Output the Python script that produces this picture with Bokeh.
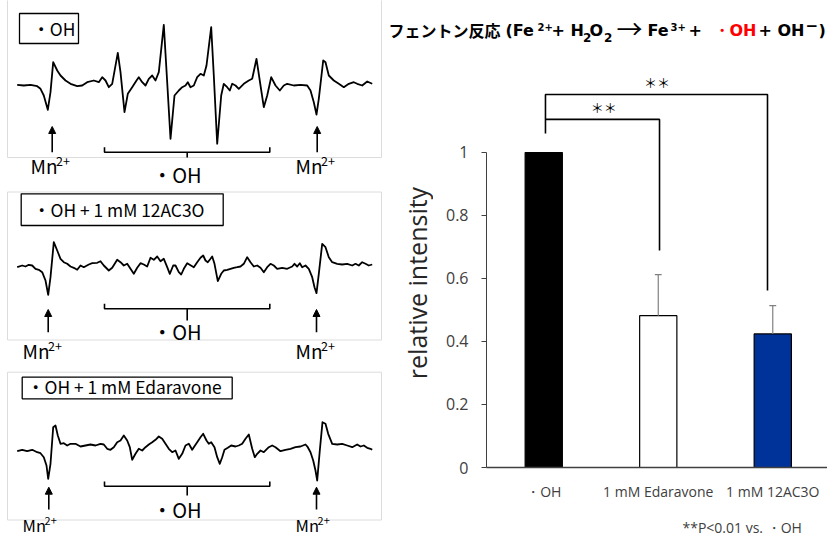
import math
from bokeh.plotting import figure
from bokeh.layouts import row, column
from bokeh.models import Range1d, FixedTicker, Arrow, NormalHead
from bokeh.core.properties import value
from bokeh.embed import file_html
from bokeh.resources import INLINE

# ---------------- data ----------------
categories = ["・OH", "1 mM Edaravone", "1 mM 12AC3O"]
intensity = [1.0, 0.482, 0.424]
sd = [0.0, 0.13, 0.09]
bar_colors = ["#000000", "#ffffff", "#003399"]
y_ticks = [0, 0.2, 0.4, 0.6, 0.8, 1]
y_tick_labels = ["0", "0.2", "0.4", "0.6", "0.8", "1"]
y_label = "relative intensity"
sig_text = "＊＊"
footnote = "**P<0.01 vs. ・OH"

# ESR spectra (field position, signal amplitude a.u.)
field_oh = [16.7, 23.3, 30, 36.7, 40, 43.3, 47.3, 50, 52.7, 56.7,
            60, 65, 70, 76.7, 81.7, 86.7, 93.3, 98.3, 101.7, 105,
            108.3, 111.7, 117.3, 120, 124, 127.3, 131.7, 136, 138.3, 141.7,
            145, 148.3, 151.7, 155, 158.3, 163.3, 166.7, 170, 174, 178.3,
            181.7, 185, 187.3,
            190, 193.3, 196.7, 200, 203.3, 206, 210.7, 213.3, 216.7, 220.7,
            223.3, 226.7, 229.3, 231.7, 235, 238.3, 243.3, 248.3, 251.7, 256,
            260, 263.3, 266.7, 270.7, 275, 279.3, 283.3, 286.7, 293.3, 300,
            306.7, 310, 313.3, 316, 318.3, 322.7, 325, 328.3, 333.3, 338.3,
            343.3, 348.3, 353.3, 356.7, 361.7, 366.7, 371.7]
signal_oh = [-0.3, -1, -0.3, -1.7, -4.3, -11, -25.3, -7.7, 22.3, 14,
             9, 4, 0.7, -1.7, -1, 2.3, 4, 2.3, 7.3, 4,
             -2.7, 0.7, 31.7, 12.3, -27.7, -9.3, -2.7, 4, 7.3, 2.3,
             -1, 5.7, 9, 4, 12.3, 59.7, 2.3, -54.3, -11, -6,
             -2.7, -1, 2.3,
             -2.7, -1, 7.3, 10.7, 9, 19, 57.3, 9, -59.3, -11,
             0.7, -2.7, -6, 0.7, -1, -4.3, 0.7, 4, 5.7, 25.7,
             -1, -22.7, -11, 7.3, -1, -6, -1, 0.7, -1, -0.3,
             -1, -6, -17.7, -30, -14.3, 24, 22.3, 9, 4, 0.7,
             -2.7, 0.7, 2.3, 0.7, -1, 3, 0.7]

field_12ac3o = [16.7, 21.7, 25, 28.3, 31.7, 35, 38.3, 41.7, 45, 47.7,
                50, 53.3, 56.7, 60, 63.3, 66.7, 70, 73.3, 76.7, 80,
                83.3, 88.3, 91.7, 96.7, 100, 103.3, 108.3, 111.7, 116.7, 120,
                123.3, 126.7, 130, 133.3, 136.7, 140, 143.3, 146.7, 150, 153.3,
                156.7, 160, 163.3, 166.7, 169.3, 172.7, 175, 178.3, 180.7, 183.3,
                186.7,
                193.3, 196.7, 200, 202.7, 205, 207.3, 210, 211.7, 214, 217.3,
                220.7, 223.3, 226.7, 230, 233.3, 236.7, 240, 243.3, 246.7, 250,
                253.3, 256.7, 260, 263.3, 266.7, 270, 273.3, 276.7, 281.7, 286.7,
                291.7, 294, 296.7, 299.3, 301.7, 305, 308.3, 311.7, 314, 316,
                318.3, 321.7, 325, 328.3, 331.7, 336.7, 341.7, 346.7, 351.7, 355,
                358.3, 361.7, 365, 368.3, 371.7]
signal_12ac3o = [-1.7, 0, -1, 0.7, 0, -3.3, -4.3, -6.7, -15, -29.3,
                 -11.7, 23.3, 15, 6.7, 3.3, 1.7, -1, -2.3, -4.3, 0,
                 -1.7, 1, 2.3, 2.7, 4.3, 0, -5, -2.3, 5.7, 3.3,
                 0, 1.7, -3.3, -8.3, -2.3, 2.3, 1, -1, 7.7, 5.7,
                 9, 4.3, 6.7, -1.7, -8.3, 0, 0, -6.7, -9, -3.3,
                 2.3,
                 -1.7, 3.3, 7.7, 10, 5, 3.3, 6.7, 9, 1.7, -15.7,
                 -8.3, -5, -4.3, -3.3, -2.3, -1.7, -1, 1.7, 8.3, 3.3,
                 -1, 0, -2.3, -6.7, -1.7, 1.7, 0, -3.3, -2.3, -3.3,
                 -1, 1.7, -1, 2.3, -1.7, 0, -3.3, -11.7, -21.7, -27.7,
                 -8.3, 21.7, 18.3, 8.3, 3.3, 1.7, 1, 1.7, 0, 1.7,
                 0, 3.3, 1.7, 0, 1]

field_edaravone = [16.7, 21.7, 26.7, 31.7, 36.7, 40, 43.3, 46, 47.7, 50,
                   52.7, 55, 57.3, 60, 63.3, 66.7, 70, 75, 80, 85,
                   90, 95, 100, 103.3, 106.7, 110, 113.3, 116.7, 120, 123.3,
                   126.7, 129.3, 131.7, 135, 138.3, 141.7, 145, 148.3, 151.7, 155,
                   158.3, 161.7, 165, 168.3, 171.7, 175, 178.3, 181.7, 185, 188.3,
                   191.7,
                   193.3, 196.7, 200, 202.7, 206, 208.3, 210.7, 214, 216.7, 219.3,
                   221.7, 224, 227.3, 230.7, 235, 238.3, 241.7, 245, 248.3, 251.7,
                   254.3, 256.7, 260, 263.3, 268.3, 271.7, 275, 280, 285, 290,
                   295, 300, 305, 307.3, 310, 312.7, 315, 316.7, 319.3, 322,
                   325, 327.7, 331.7, 336.7, 341.7, 346.7, 351.7, 356.7, 360, 363.3,
                   366.7, 370, 371.7]
signal_edaravone = [-4.7, -3.3, -4.7, -3.3, -5.7, -6.7, -10.7, -19, -32.3, -17.3,
                    19.3, 21, 11, 2.7, 3.3, 1, 2.7, 2.7, 0, 1,
                    2, 1, 2.7, 2, -2.3, -3.3, -0.7, 4.3, 6, 11,
                    6, -0.7, -13.3, -7.3, -2.3, -4, -0.7, 2, 4.3, 6.7,
                    10, 7.7, 2.7, -2.3, -5.7, -4, -12.3, -7.3, 1, 2.7,
                    -3.3,
                    -0.7, 4.3, 9.3, 12.7, 6, 2.7, 4.3, -0.7, -10.7, -17.3,
                    -10.7, -3.3, -1.3, 1, 0, 1, 2.7, 7.7, 12, -2.3,
                    -10.7, -7.3, -4, -5.7, -0.7, 1, -0.7, -4.7, -3.3, -2.3,
                    -0.7, 0, 2, -0.7, -5.7, -14, -24, -34, -4, 24.3,
                    22.7, 12.7, 2.7, 2, 2.7, 1, -0.7, 2, 0, 1,
                    -1.3, -2.3, -3.3]

panel_labels = ["・OH", "・OH + 1 mM 12AC3O", "・OH + 1 mM Edaravone"]
peak_label = "・OH"
mn_text = "Mn"
mn_sup = "2+"

CJK = "Noto Sans CJK JP"
SANS = "Open Sans"
DJB = "DejaVu Sans"


def base(y, size):
    # text baseline correction (alphabetic text drawn ~0.45em low)
    return y - 0.45 * size


def blank(fig):
    fig.grid.visible = False
    return fig


# ---------------- left: ESR spectra ----------------
left = blank(figure(width=383, height=537, x_range=Range1d(0, 383), y_range=Range1d(537, 0),
                    x_axis_type=None, y_axis_type=None, output_backend="svg",
                    toolbar_location=None, min_border=0, outline_line_color=None,
                    frame_align=False))

panels = [
    dict(field=field_oh, signal=signal_oh, base=84, frame=(7, 381, -5, 157),
         box=(19, 78, 13, 43), lab_x=31.9, lab_base=35.5,
         arr=(151.7, 126), arr_x=(51.7, 316.7),
         br_y=151.7, br_up=5, br_c=157, oh_base=183, mn_base=174, mn_size=19, mn_x=(30, 295)),
    dict(field=field_12ac3o, signal=signal_12ac3o, base=265, frame=(7, 381, 191.5, 339.5),
         box=(20.7, 222.7, 193.3, 225), lab_x=32.6, lab_base=216.5,
         arr=(331.7, 309), arr_x=(47.7, 316),
         br_y=308.3, br_up=5, br_c=320, oh_base=340, mn_base=358.3, mn_size=19, mn_x=(22, 295)),
    dict(field=field_edaravone, signal=signal_edaravone, base=446, frame=(7, 381, 371.7, 519.5),
         box=(21.7, 231.7, 376.7, 398.3), lab_x=26.6, lab_base=394,
         arr=(509, 486.7), arr_x=(48.3, 316),
         br_y=485.7, br_up=4.7, br_c=495, oh_base=518, mn_base=532, mn_size=16.5, mn_x=(22, 295)),
]

for i, pn in enumerate(panels):
    l, r, t, b = pn["frame"]
    left.quad(left=[l], right=[r], top=[t], bottom=[b], fill_color=None,
              line_color="#dcdcdc", line_width=1)
    ys = [pn["base"] - s for s in pn["signal"]]
    left.line(pn["field"], ys, line_color="black", line_width=1.8, line_join="round")
    bl, br, bt, bb = pn["box"]
    left.quad(left=[bl], right=[br], top=[bt], bottom=[bb], fill_color="white",
              line_color="black", line_width=1.3)
    left.text(x=[pn["lab_x"]], y=[base(pn["lab_base"], 17.4)], text=[panel_labels[i]],
              text_font=value(CJK), text_font_size="17.4px", text_baseline="alphabetic",
              text_align="left", text_color="black")
    y0, y1 = pn["arr"]
    for ax in pn["arr_x"]:
        left.add_layout(Arrow(x_start=ax, y_start=y0, x_end=ax, y_end=y1, line_width=1.6,
                              line_color="black",
                              end=NormalHead(size=7, fill_color="black", line_color="black")))
    by = pn["br_y"]
    left.line([104, 104, 269.3, 269.3], [by - pn["br_up"], by, by, by - pn["br_up"]],
              line_color="black", line_width=1.6)
    left.line([186.7, 186.7], [by, pn["br_c"]], line_color="black", line_width=1.6)
    left.text(x=[151.7], y=[base(pn["oh_base"], 20)], text=[peak_label], text_font=value(CJK),
              text_font_size="20px", text_baseline="alphabetic", text_align="left",
              text_color="black")
    ms = pn["mn_size"]
    for mx in pn["mn_x"]:
        left.text(x=[mx], y=[base(pn["mn_base"], ms)], text=[mn_text], text_font=value(CJK),
                  text_font_size=f"{ms}px", text_baseline="alphabetic", text_align="left",
                  text_color="black")
        left.text(x=[mx + 1.34 * ms], y=[base(pn["mn_base"] - 0.4 * ms, 0.66 * ms)], text=[mn_sup],
                  text_font=value(CJK), text_font_size=f"{0.66 * ms:.1f}px",
                  text_baseline="alphabetic", text_align="left", text_color="black")

# ---------------- title ----------------
tfig = blank(figure(width=444, height=58, x_range=Range1d(383, 827), y_range=Range1d(58, 0),
                    x_axis_type=None, y_axis_type=None, output_backend="svg",
                    toolbar_location=None, min_border=0, outline_line_color=None,
                    frame_align=False))

title_pieces = [
    # text, x, baseline, size, font, color
    ("フェントン反応", 388, 36.7, 16, CJK, "black"),
    ("(Fe", 505, 36.7, 16, DJB, "black"),
    ("2+", 537, 31, 10, DJB, "black"),
    ("+ H", 551, 36.7, 16, DJB, "black"),
    ("2", 582.5, 42.5, 12, DJB, "black"),
    ("O", 589, 36.7, 16, DJB, "black"),
    ("2", 603.5, 42.5, 12, DJB, "black"),
    ("Fe", 647, 36.7, 16, DJB, "black"),
    ("3+", 670, 31, 10, DJB, "black"),
    ("+", 688, 36.7, 16, DJB, "black"),
    ("・OH", 713, 36.7, 16, DJB, "#ff0000"),
    ("+ OH", 758, 36.7, 16, DJB, "black"),
    ("−", 805, 31, 15, DJB, "black"),
    (")", 818, 36.7, 16, DJB, "black"),
]
for txt, x, y, sz, fnt, col in title_pieces:
    tfig.text(x=[x], y=[base(y, sz)], text=[txt], text_font=value(fnt), text_font_size=f"{sz}px",
              text_font_style="bold", text_baseline="alphabetic", text_align="left",
              text_color=col)
tfig.text(x=[629], y=[base(38.5, 26)], text=["→"], text_font=value(CJK), text_font_size="26px",
          text_baseline="alphabetic", text_align="center", text_color="black")

# ---------------- y-axis title strip ----------------
lfig = blank(figure(width=50, height=452, x_range=Range1d(383, 433), y_range=Range1d(510, 58),
                    x_axis_type=None, y_axis_type=None, output_backend="svg",
                    toolbar_location=None, min_border=0, outline_line_color=None,
                    frame_align=False))
lfig.text(x=[416], y=[282.5], text=[y_label], angle=math.pi / 2, text_font=value(SANS),
          text_font_size="25px", text_align="center", text_baseline="middle",
          text_color="#262626")

# ---------------- bar chart ----------------
xs = list(range(len(categories)))
bar = blank(figure(width=394, height=452, x_range=Range1d(-0.5, 2.478), y_range=Range1d(0, 1.2984),
                   output_backend="svg", toolbar_location=None,
                   min_border_left=53, min_border_right=0, min_border_top=0, min_border_bottom=43,
                   outline_line_color=None, frame_align=False))

bar.vbar(x=xs, top=intensity, width=0.325, fill_color=bar_colors, line_color="black",
         line_width=1.2)

ex = [x for x, e in zip(xs, sd) if e > 0]
elo = [v for v, e in zip(intensity, sd) if e > 0]
ehi = [v + e for v, e in zip(intensity, sd) if e > 0]
bar.segment(x0=ex, y0=elo, x1=ex, y1=ehi, line_color="#808080", line_width=1.2)
bar.segment(x0=[x - 0.03 for x in ex], y0=ehi, x1=[x + 0.03 for x in ex], y1=ehi,
            line_color="#808080", line_width=1.2)

# significance brackets
bar.line([0.015, 0.015, 1.954, 1.954], [1.06, 1.184, 1.184, 0.562], line_color="black", line_width=1.6)
bar.line([0.015, 1.011, 1.011], [1.105, 1.105, 0.689], line_color="black", line_width=1.6)
bar.text(x=[0.99, 0.525], y=[1.223, 1.144], text=[sig_text, sig_text], text_font=value(CJK),
         text_font_size="13px", text_align="center", text_baseline="middle", text_color="black")

yax = bar.yaxis[0]
yax.ticker = FixedTicker(ticks=y_ticks)
yax.major_label_overrides = {t: s for t, s in zip(y_ticks, y_tick_labels)}
yax.bounds = (0, 1)
yax.minor_tick_line_color = None
yax.major_tick_out = 5
yax.major_tick_in = 0
yax.major_label_standoff = 13
yax.major_label_text_font = SANS
yax.major_label_text_font_size = "16px"
yax.major_label_text_color = "#404040"
yax.axis_line_color = "#404040"
yax.major_tick_line_color = "#404040"

xax = bar.xaxis[0]
xax.ticker = FixedTicker(ticks=xs)
xax.major_label_overrides = {x: c for x, c in zip(xs, categories)}
xax.major_tick_line_color = None
xax.minor_tick_line_color = None
xax.major_label_standoff = 8
xax.major_label_text_font = SANS
xax.major_label_text_font_size = "14px"
xax.major_label_text_color = "#404040"
xax.axis_line_color = "#404040"
xax.axis_line_width = 1.3

# ---------------- footnote strip ----------------
ffig = blank(figure(width=444, height=27, x_range=Range1d(383, 827), y_range=Range1d(537, 510),
                    x_axis_type=None, y_axis_type=None, output_backend="svg",
                    toolbar_location=None, min_border=0, outline_line_color=None,
                    frame_align=False))
ffig.text(x=[682], y=[base(533, 14)], text=[footnote], text_font=value(SANS),
          text_font_size="14px", text_baseline="alphabetic", text_align="left",
          text_color="#404040")

right = column(tfig, row(lfig, bar, spacing=0), ffig, spacing=0)
layout = row(left, right, spacing=0)
open("out.html", "w").write(file_html(layout, INLINE))
